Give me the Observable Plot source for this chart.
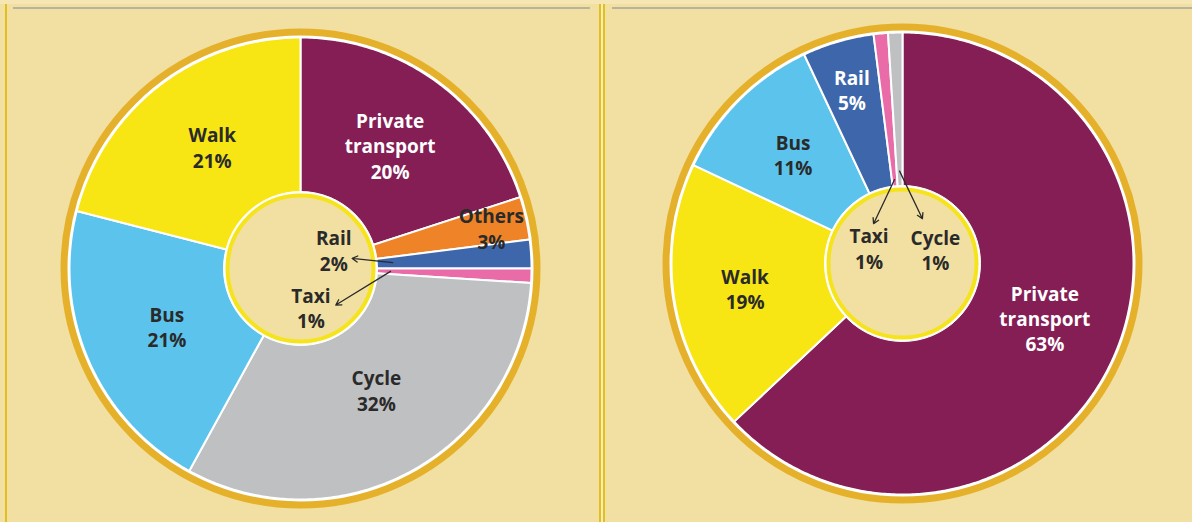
<!DOCTYPE html>
<html>
<head>
<meta charset="utf-8">
<script src="https://cdn.jsdelivr.net/npm/d3@7"></script>
<script src="https://cdn.jsdelivr.net/npm/@observablehq/plot@0.6"></script>
<style>
  html, body { margin: 0; padding: 0; background: #f2e0a2; }
  #wrap { position: relative; width: 1192px; height: 522px; overflow: hidden; background: #f2e0a2; }
  #topband { position: absolute; left: 0; top: 0; width: 1192px; height: 4px; background: #f5e6b4; }
  .panel { position: absolute; top: 0; }
  .vline { position: absolute; top: 4px; bottom: 0; width: 2px; background: #e2bf1c; }
  .hline { position: absolute; top: 7px; height: 2px; background: #b8b39c; }
  #gap { position: absolute; left: 601px; top: 4px; bottom: 0; width: 2px; background: #f7ebc0; }
</style>
</head>
<body>
<div id="wrap">
  <div id="topband"></div>
  <div class="panel" id="left" style="left:0px"></div>
  <div class="panel" id="right" style="left:598px"></div>
  <div class="vline" style="left:5px"></div>
  <div class="vline" style="left:599px"></div>
  <div id="gap"></div>
  <div class="vline" style="left:603px"></div>
  <div class="hline" style="left:13px; width:577px"></div>
  <div class="hline" style="left:612px; width:580px"></div>
</div>
<script>
// ---- Data ----
const leftCategories = ["Private transport", "Others", "Rail", "Taxi", "Cycle", "Bus", "Walk"];
const leftValues = [20, 3, 2, 1, 32, 21, 21];

const rightCategories = ["Private transport", "Walk", "Bus", "Rail", "Taxi", "Cycle"];
const rightValues = [63, 19, 11, 5, 1, 1];

const categoryColors = {
  "Private transport": "#841e55",
  "Others": "#ee8327",
  "Rail": "#3d66ab",
  "Taxi": "#e96ca8",
  "Cycle": "#bfc0c2",
  "Bus": "#5cc4ec",
  "Walk": "#f7e614"
};

// ---- Styling / layout ----
const BG = "#f2e0a2";
const GOLD = "#e6b12a";
const INNER_YELLOW = "#f5e31c";
const DARK = "#2a2a2a";
const FONT = "'Open Sans', 'DejaVu Sans', sans-serif";
const R = 231; // pixels per unit radius

// label placement: radius fraction, optional angle (deg), text color
const leftPlacement = {
  "Private transport": {r: 0.66, color: "white"},
  "Others": {r: 0.845, a: 78, color: DARK},
  "Rail": {r: 0.165, a: 61, color: DARK, arrow: {r1: 0.40, r2: 0.228, a2: 79}},
  "Taxi": {r: 0.175, a: 165, color: DARK, arrow: {r1: 0.39, r2: 0.22, a2: 136}},
  "Cycle": {r: 0.62, a: 148, color: DARK},
  "Bus": {r: 0.63, color: DARK},
  "Walk": {r: 0.65, a: 324, color: DARK}
};
const rightPlacement = {
  "Private transport": {r: 0.66, a: 111, color: "white"},
  "Walk": {r: 0.69, color: DARK},
  "Bus": {r: 0.67, color: DARK},
  "Rail": {r: 0.785, color: "white"},
  "Taxi": {r: 0.16, a: 295, color: DARK, arrow: {r1: 0.365, r2: 0.213, a2: 324}},
  "Cycle": {r: 0.155, a: 67, color: DARK, arrow: {r1: 0.40, r2: 0.212, a2: 24}}
};

const rad = d => d * Math.PI / 180;
const polar = (r, a) => ({x: r * Math.sin(a), y: r * Math.cos(a)});

function donut({categories, values, placement, width, cx, cy, innerR}) {
  const height = 522;
  const pie = d3.pie().sort(null).value(d => d.value).startAngle(0).endAngle(2 * Math.PI);
  const arcs = pie(categories.map((c, i) => ({name: c, value: values[i]})));

  const marks = [];
  // gold outer ring
  marks.push(Plot.dot([{x: 0, y: 0}], {x: "x", y: "y", r: R + 5.5, fill: "white", stroke: GOLD, strokeWidth: 7}));
  // wedges
  for (const a of arcs) {
    const n = Math.max(4, Math.ceil((a.endAngle - a.startAngle) / 0.01));
    const pts = [{x: 0, y: 0}];
    for (let k = 0; k <= n; k++) {
      const t = a.startAngle + (a.endAngle - a.startAngle) * k / n;
      pts.push(polar(1, t));
    }
    pts.push({x: 0, y: 0});
    marks.push(Plot.line(pts, {x: "x", y: "y", fill: categoryColors[a.data.name], stroke: "white", strokeWidth: 2, strokeLinejoin: "round", curve: "linear"}));
  }
  // inner circle
  marks.push(Plot.dot([{x: 0, y: 0}], {x: "x", y: "y", r: innerR, fill: "white", stroke: "white", strokeWidth: 1}));
  marks.push(Plot.dot([{x: 0, y: 0}], {x: "x", y: "y", r: innerR - 4, fill: BG, stroke: INNER_YELLOW, strokeWidth: 4}));

  // labels
  const labels = arcs.map(a => {
    const p = placement[a.data.name];
    const mid = (a.startAngle + a.endAngle) / 2;
    const ang = p.a !== undefined ? rad(p.a) : mid;
    const pos = polar(p.r, ang);
    const txt = a.data.name === "Private transport"
      ? `Private\ntransport\n${a.data.value}%`
      : `${a.data.name}\n${a.data.value}%`;
    return {...pos, text: txt, color: p.color};
  });
  marks.push(Plot.text(labels, {x: "x", y: "y", text: "text", fill: "color", fontSize: 19, fontWeight: 700, fontFamily: FONT, lineHeight: 1.33, lineAnchor: "middle", textAnchor: "middle"}));

  // arrows
  const arrows = arcs.filter(a => placement[a.data.name].arrow).map(a => {
    const ar = placement[a.data.name].arrow;
    const mid = (a.startAngle + a.endAngle) / 2;
    const p1 = polar(ar.r1, mid), p2 = polar(ar.r2, rad(ar.a2));
    return {x1: p1.x, y1: p1.y, x2: p2.x, y2: p2.y};
  });
  marks.push(Plot.arrow(arrows, {x1: "x1", y1: "y1", x2: "x2", y2: "y2", stroke: DARK, strokeWidth: 1.3, headLength: 7, bend: false}));

  return Plot.plot({
    width, height,
    margin: 0,
    style: {background: "transparent", overflow: "visible"},
    x: {domain: [-cx / R, (width - cx) / R], axis: null},
    y: {domain: [-(height - cy) / R, cy / R], axis: null},
    marks
  });
}

document.getElementById("left").appendChild(donut({
  categories: leftCategories, values: leftValues, placement: leftPlacement,
  width: 598, cx: 300, cy: 268, innerR: 77
}));
document.getElementById("right").appendChild(donut({
  categories: rightCategories, values: rightValues, placement: rightPlacement,
  width: 594, cx: 304, cy: 263, innerR: 78
}));
</script>
</body>
</html>
